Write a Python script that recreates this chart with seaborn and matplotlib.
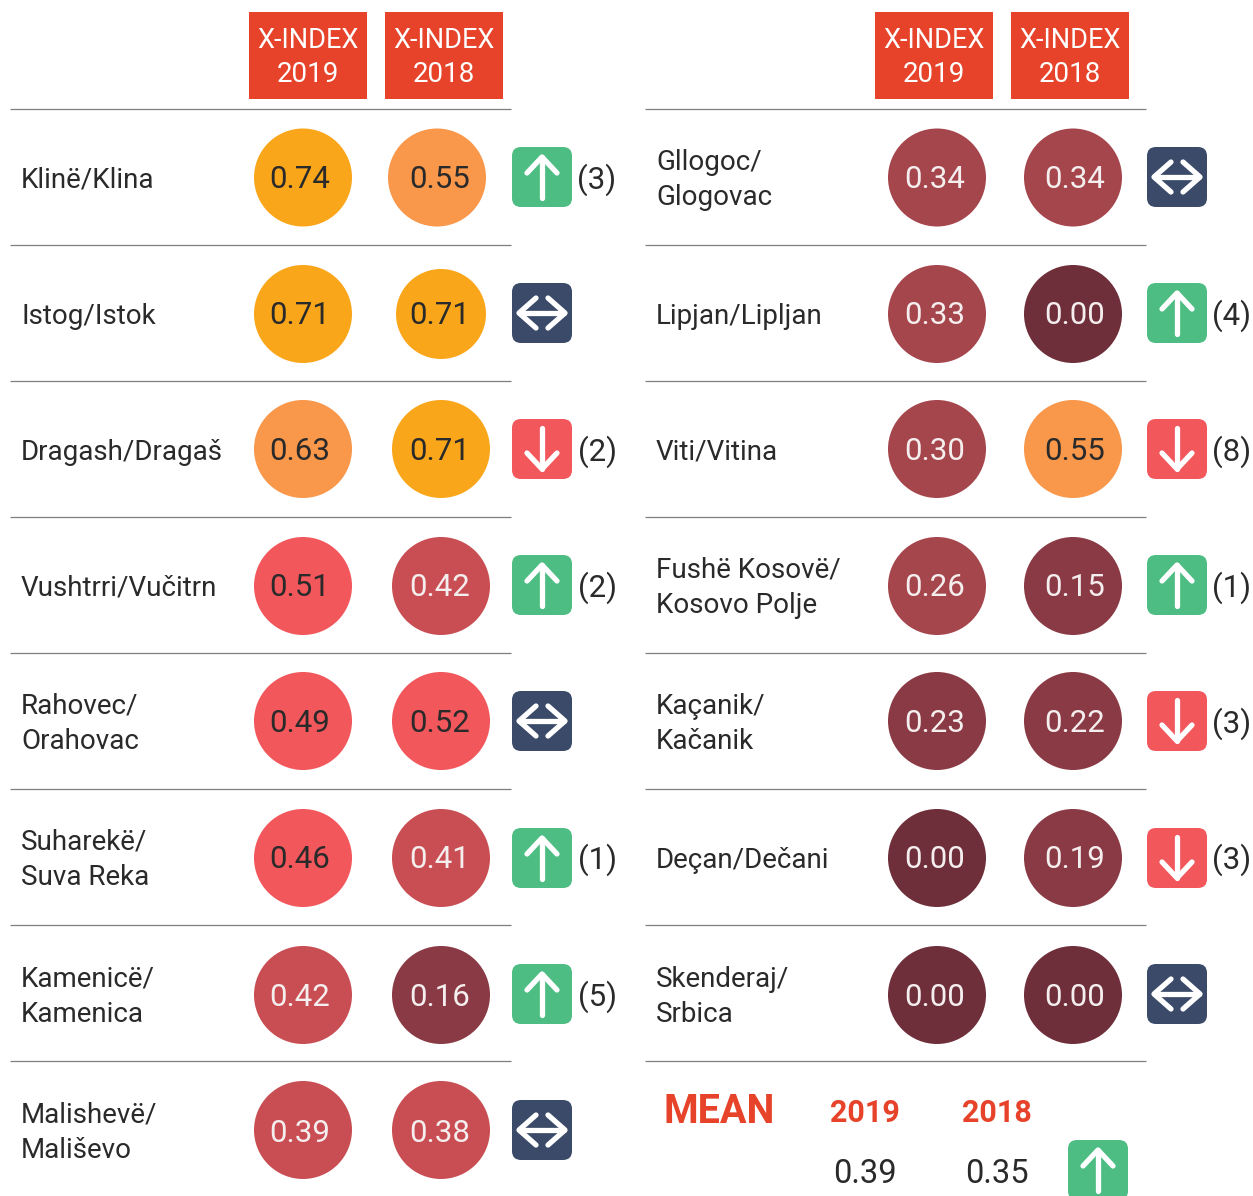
import matplotlib
matplotlib.use("Agg")
import matplotlib.pyplot as plt
from matplotlib.patches import FancyBboxPatch, Rectangle
import seaborn as sns
import pandas as pd

# ---- data ----
left_names = ["Klinë/Klina", "Istog/Istok", "Dragash/Dragaš", "Vushtrri/Vučitrn",
              "Rahovec/\nOrahovac", "Suharekë/\nSuva Reka", "Kamenicë/\nKamenica", "Malishevë/\nMališevo"]
left_2019 = [0.74, 0.71, 0.63, 0.51, 0.49, 0.46, 0.42, 0.39]
left_2018 = [0.55, 0.71, 0.71, 0.42, 0.52, 0.41, 0.16, 0.38]
left_trend = ["up", "same", "down", "up", "same", "up", "up", "same"]
left_change = ["(3)", "", "(2)", "(2)", "", "(1)", "(5)", ""]

right_names = ["Gllogoc/\nGlogovac", "Lipjan/Lipljan", "Viti/Vitina", "Fushë Kosovë/\nKosovo Polje",
               "Kaçanik/\nKačanik", "Deçan/Dečani", "Skenderaj/\nSrbica"]
right_2019 = [0.34, 0.33, 0.30, 0.26, 0.23, 0.00, 0.00]
right_2018 = [0.34, 0.00, 0.55, 0.15, 0.22, 0.19, 0.00]
right_trend = ["same", "up", "down", "up", "down", "down", "same"]
right_change = ["", "(4)", "(8)", "(1)", "(3)", "(3)", ""]

header_years = ["2019", "2018"]
mean_values = [0.39, 0.35]

# ---- style ----
W, H, DPI = 1253, 1196, 100
FONT = "Roboto"
RED = "#E6432A"
INK = "#2A2A2A"
BANDS = {"a": "#FAA61A", "b": "#F9974B", "c": "#F2575C", "d": "#C94E53",
         "e": "#A5454C", "f": "#8A3A44", "g": "#6E2F3B"}
BADGE = {"up": "#4DBD83", "same": "#3B4A68", "down": "#F2575C"}
ROW_Y = [178, 314, 450, 586, 722, 858, 995, 1131]
CIRCLE_Y = [177.5, 314, 449, 586, 721, 858, 995, 1130]
BADGE_Y = [177, 313, 449, 585, 721, 858, 994, 1130]
RULE_Y = [109, 245, 381, 517, 653, 789, 925, 1061]


def band(v):
    if v >= 0.70: return "a"
    if v >= 0.55: return "b"
    if v >= 0.45: return "c"
    if v >= 0.38: return "d"
    if v >= 0.25: return "e"
    if v > 0: return "f"
    return "g"


sns.set_theme(style="white")
plt.rcParams["font.family"] = [FONT, "DejaVu Sans"]
fig = plt.figure(figsize=(W / DPI, H / DPI), dpi=DPI, facecolor="white")
ax = fig.add_axes([0, 0, 1, 1])

rows = []
for i in range(8):
    rows.append(dict(x=303, y=CIRCLE_Y[i], ty=ROW_Y[i], tx=300, v=left_2019[i], d=98))
    small = i == 1
    shift = 441 if (i > 0) else 437
    rows.append(dict(x=shift, y=CIRCLE_Y[i], ty=ROW_Y[i], tx=440, v=left_2018[i], d=90 if small else 98))
for i in range(7):
    rows.append(dict(x=937, y=CIRCLE_Y[i], ty=ROW_Y[i], tx=935, v=right_2019[i], d=98))
    rows.append(dict(x=1073, y=CIRCLE_Y[i], ty=ROW_Y[i], tx=1075, v=right_2018[i], d=98))
df = pd.DataFrame(rows)
df["band"] = df.v.map(band)
df["area"] = (df.d * 72 / DPI) ** 2

sns.scatterplot(data=df, x="x", y="y", hue="band", palette=BANDS, size="area",
                sizes={a: a for a in df.area.unique()}, linewidth=0, legend=False,
                ax=ax, zorder=3, clip_on=False)
ax.set_xlim(0, W)
ax.set_ylim(H, 0)
ax.axis("off")

for _, r in df.iterrows():
    col = INK if r.band in "abc" else "#F5EEEE"
    ax.text(r.tx, r.ty + 2, f"{r.v:.2f}", color=col, fontsize=22.5,
            ha="center", va="center", zorder=4)


def badge(cx, cy, kind):
    s, rad = 60, 9
    ax.add_patch(FancyBboxPatch((cx - s / 2 + rad, cy - s / 2 + rad), s - 2 * rad, s - 2 * rad,
                                boxstyle=f"round,pad={rad},rounding_size={rad}",
                                fc=BADGE[kind], ec="none", zorder=3))
    kw = dict(color="white", lw=3.8, solid_capstyle="round", solid_joinstyle="round", zorder=4)
    if kind == "same":
        ax.plot([cx - 22, cx + 22], [cy, cy], **kw)
        for sx in (-1, 1):
            ax.plot([cx + sx * 6, cx + sx * 23, cx + sx * 6], [cy - 15, cy, cy + 15], **kw)
    else:
        sy = -1 if kind == "up" else 1
        ax.plot([cx, cx], [cy - sy * 21, cy + sy * 20], **kw)
        ax.plot([cx - 15, cx, cx + 15], [cy + sy * 4, cy + sy * 20, cy + sy * 4], **kw)


def column(names, trend, change, x_name, x_badge, x_change):
    for i, name in enumerate(names):
        ax.text(x_name, ROW_Y[i] + 2, name, color=INK, fontsize=20,
                ha="left", va="center", linespacing=1.4)
        badge(x_badge, BADGE_Y[i], trend[i])
        if change[i]:
            ax.text(x_change, ROW_Y[i] + 2, change[i], color=INK, fontsize=22.5,
                    ha="center", va="center")


column(left_names, left_trend, left_change, 21, 542, 597)
column(right_names, right_trend, right_change, 656, 1177, 1232)

for x0, x1 in ((10, 511), (645, 1146)):
    for y in RULE_Y:
        ax.plot([x0, x1], [y, y], color="#7F7F7F", lw=0.9, solid_capstyle="butt", zorder=1)

for cx, year in zip((308, 444, 934, 1070), header_years * 2):
    ax.add_patch(Rectangle((cx - 59, 12), 118, 87, fc=RED, ec="none", zorder=2))
    ax.text(cx, 41, "X-INDEX", color="white", fontsize=19.5,
            ha="center", va="center", zorder=3)
    ax.text(cx, 74, year, color="white", fontsize=20,
            ha="center", va="center", zorder=3)

ax.text(664, 1112, "MEAN", color=RED, fontsize=28.5, fontweight="bold", ha="left", va="center")
for cx, year, val in zip((865, 997), header_years, mean_values):
    ax.text(cx, 1113, year, color=RED, fontsize=22, fontweight="bold", ha="center", va="center")
    ax.text(cx, 1174, f"{val:.2f}", color=INK, fontsize=23.5, ha="center", va="center")
badge(1098, 1170, "up")

fig.savefig("out.png", dpi=DPI, facecolor="white")
